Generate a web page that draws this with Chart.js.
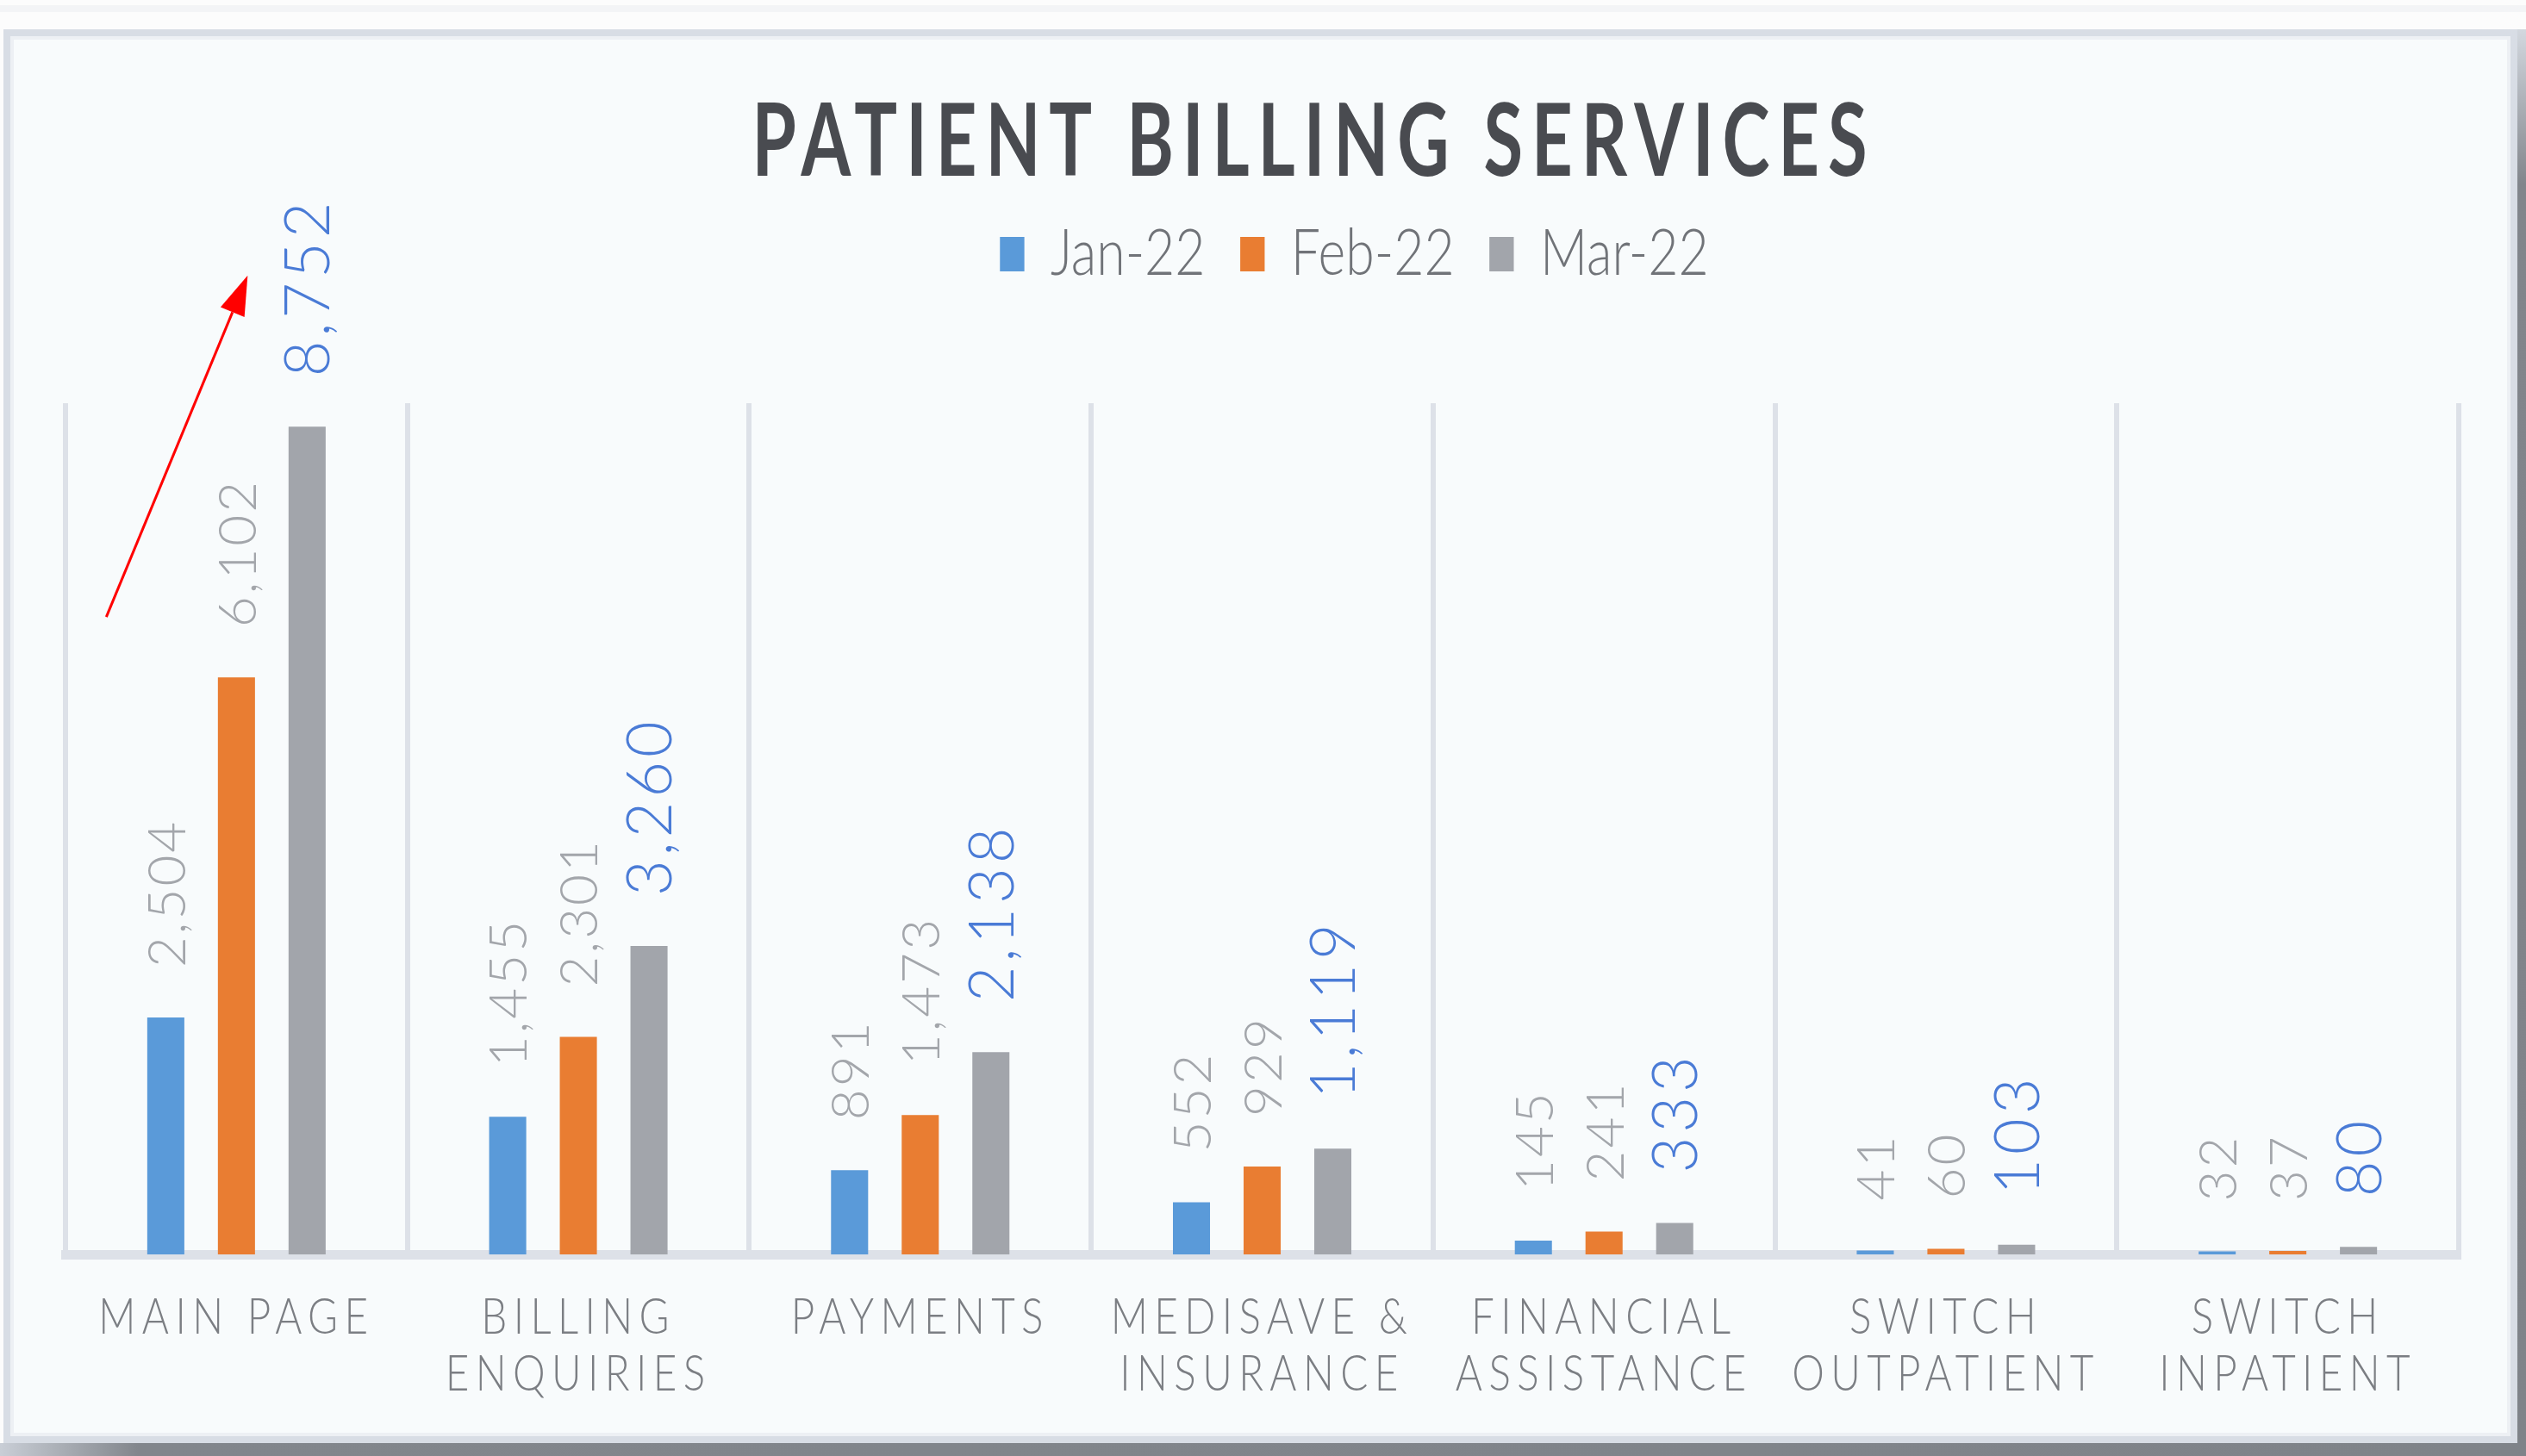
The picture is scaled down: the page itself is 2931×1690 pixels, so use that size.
<!DOCTYPE html>
<html>
<head>
<meta charset="utf-8">
<title>Patient Billing Services</title>
<script src="https://cdn.jsdelivr.net/npm/chart.js@4.4.1/dist/chart.umd.min.js"></script>
<style>
  html, body { margin: 0; padding: 0; width: 2931px; height: 1690px; overflow: hidden; background: #fcfcfc; }
  .topline { position: absolute; left: 0; top: 6px; width: 2931px; height: 8px; background: #f3f4f6; }
  .panel { position: absolute; left: 4px; top: 34px; width: 2917px; height: 1641px; box-sizing: border-box;
           border: 8px solid #d8dde5; box-shadow: inset 0 0 0 4px #edf0f4; background: #f8fbfc; }
  .shadow-r { position: absolute; left: 2921px; top: 34px; width: 10px; height: 1656px;
              background: linear-gradient(to bottom, #d3d8df 0, #81858b 180px, #7f8389 100%); }
  .shadow-b { position: absolute; left: 0; top: 1675px; width: 2931px; height: 15px;
              background: linear-gradient(to right, #c9ced6 0, #82868c 160px, #7f8389 100%); }
  .wrap { position: absolute; left: 0; top: 0; width: 2931px; height: 1690px; }
</style>
</head>
<body>
<div class="topline"></div>
<div class="panel"></div>
<div class="shadow-r"></div>
<div class="shadow-b"></div>
<div class="wrap"><canvas id="billingChart"></canvas></div>

<script>
// Data
const categories = [
    ['MAIN PAGE'],
    ['BILLING', 'ENQUIRIES'],
    ['PAYMENTS'],
    ['MEDISAVE &', 'INSURANCE'],
    ['FINANCIAL', 'ASSISTANCE'],
    ['SWITCH', 'OUTPATIENT'],
    ['SWITCH', 'INPATIENT']
];
const seriesNames = ['Jan-22', 'Feb-22', 'Mar-22'];
const jan22 = [2504, 1455, 891, 552, 145, 41, 32];
const feb22 = [6102, 2301, 1473, 929, 241, 60, 37];
const mar22 = [8752, 3260, 2138, 1119, 333, 103, 80];
const yMax = 9000;

// red arrow pointing up at the first group (in value units)
const arrowFrom = 6740;
const arrowTo = 10350;

const barColors = ['#5a9ad9', '#e97d32', '#a2a5ab'];
const labelStyles = [
    { size: 62, spacing: 3, color: '#a3a6ab' },
    { size: 62, spacing: 3, color: '#a3a6ab' },
    { size: 72, spacing: 5, color: '#4a7bd6' }
];

// squeeze a whole layout box (title, legend) sideways and shift it
function squeezeBox(box, factor, shift, spacing) {
    const draw = box.draw;
    box.draw = function (area) {
        const ctx = this.ctx;
        const cx = (this.left + this.right) / 2;
        ctx.save();
        ctx.letterSpacing = spacing + 'px';
        ctx.translate(cx + shift, 0);
        ctx.scale(factor, 1);
        ctx.translate(-cx, 0);
        draw.call(this, area);
        ctx.restore();
    };
}

// squeeze each tick label on its own
function squeezeLabels(scale, factor, spacing) {
    const drawLabels = scale.drawLabels;
    scale.drawLabels = function (area) {
        const ctx = this.ctx;
        const fill = ctx.fillText;
        ctx.save();
        ctx.letterSpacing = spacing + 'px';
        ctx.fillText = function (text, x, y) {
            fill.call(ctx, text, x, y, ctx.measureText(text).width * factor);
        };
        drawLabels.call(this, area);
        delete ctx.fillText;
        ctx.restore();
    };
}

const squeezePlugin = {
    id: 'squeeze',
    beforeDraw(chart) {
        if (chart.$squeezed) return;
        chart.$squeezed = true;
        squeezeBox(chart.titleBlock, 0.71, 60, 14);
        squeezeBox(chart.legend, 0.81, 107, 0);
        squeezeLabels(chart.scales.x, 0.82, 9);
    }
};

// rotated value labels above each bar
const valueLabels = {
    id: 'valueLabels',
    afterDatasetsDraw(chart) {
        const ctx = chart.ctx;
        chart.data.datasets.forEach((ds, i) => {
            const style = labelStyles[i];
            chart.getDatasetMeta(i).data.forEach((bar, j) => {
                ctx.save();
                ctx.font = '300 ' + style.size + 'px Lato';
                ctx.letterSpacing = style.spacing + 'px';
                ctx.fillStyle = style.color;
                ctx.textAlign = 'left';
                ctx.textBaseline = 'alphabetic';
                ctx.translate(bar.x, bar.y - 58);
                ctx.rotate(-Math.PI / 2);
                ctx.fillText(ds.data[j].toLocaleString('en-US'), 0, style.size * 0.36);
                ctx.restore();
            });
        });
    }
};

const arrowPlugin = {
    id: 'arrow',
    afterDraw(chart) {
        const { x, y } = chart.scales;
        const cx = x.getPixelForValue(0);
        const x0 = cx - 151, y0 = y.getPixelForValue(arrowFrom);
        const x1 = cx + 13, y1 = y.getPixelForValue(arrowTo);
        const ang = Math.atan2(y1 - y0, x1 - x0);
        const head = 46, half = 15;
        const bx = x1 - head * Math.cos(ang), by = y1 - head * Math.sin(ang);
        const ctx = chart.ctx;
        ctx.save();
        ctx.strokeStyle = '#ff0000';
        ctx.fillStyle = '#ff0000';
        ctx.lineWidth = 3;
        ctx.beginPath();
        ctx.moveTo(x0, y0);
        ctx.lineTo(bx, by);
        ctx.stroke();
        ctx.beginPath();
        ctx.moveTo(x1, y1);
        ctx.lineTo(bx + half * Math.sin(ang), by - half * Math.cos(ang));
        ctx.lineTo(bx - half * Math.sin(ang), by + half * Math.cos(ang));
        ctx.closePath();
        ctx.fill();
        ctx.restore();
    }
};

const data = {
    labels: categories,
    datasets: [jan22, feb22, mar22].map((values, i) => ({
        label: seriesNames[i],
        data: values,
        xAxisID: 'x',
        backgroundColor: barColors[i],
        borderWidth: 0,
        categoryPercentage: 0.62,
        barPercentage: 0.525
    }))
};

const options = {
    responsive: true,
    maintainAspectRatio: false,
    animation: false,
    events: [],
    layout: { padding: { left: 76, right: 78, top: 0, bottom: 0 } },
    plugins: {
        title: {
            display: true,
            text: 'PATIENT BILLING SERVICES',
            color: '#494b50',
            font: { family: 'Lato', size: 117, weight: 'bold', lineHeight: 0.5 },
            padding: { top: 137, bottom: 12 }
        },
        legend: {
            display: true,
            labels: {
                color: '#707378',
                font: { family: 'Lato', size: 75, weight: 300 },
                boxWidth: 35,
                boxHeight: 40,
                padding: 50
            }
        },
        tooltip: { enabled: false }
    },
    scales: {
        x: {
            z: 1,
            grid: { color: '#dde1e8', lineWidth: 6, drawTicks: false, offset: true },
            border: { color: '#dde1e8', width: 11 },
            ticks: {
                color: '#7b7e83',
                font: { family: 'Lato', size: 58, weight: 300, lineHeight: 66 / 58 },
                padding: 40,
                maxRotation: 0,
                autoSkip: false
            },
            afterFit(scale) { scale.height = 234; }
        },
        // empty top axis that keeps room between the legend and the plot
        gap: {
            type: 'linear',
            position: 'top',
            grid: { display: false },
            border: { display: false },
            ticks: { display: false },
            afterFit(scale) { scale.height = 125.5; }
        },
        y: { display: false, min: 0, max: yMax }
    }
};

const ctx = document.getElementById('billingChart').getContext('2d');
const chart = new Chart(ctx, {
    type: 'bar',
    data: data,
    options: options,
    plugins: [squeezePlugin, valueLabels, arrowPlugin]
});
</script>
</body>
</html>
